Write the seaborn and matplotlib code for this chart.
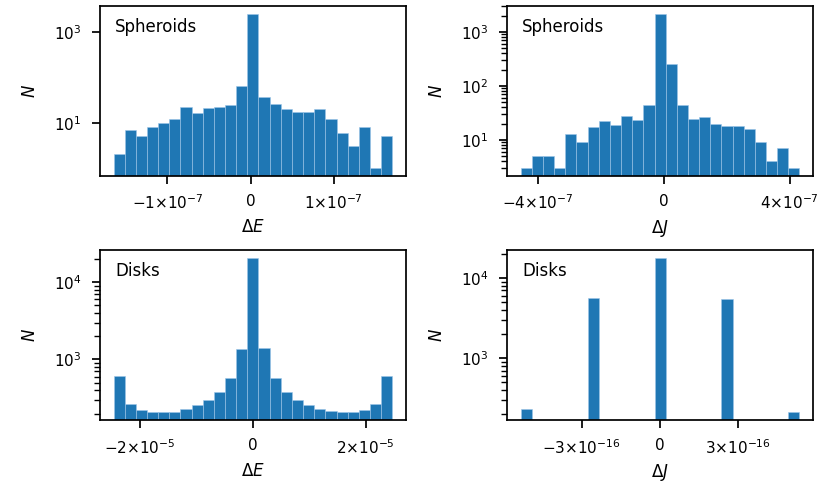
import numpy as np
import pandas as pd
import seaborn as sns
import matplotlib.pyplot as plt
from matplotlib.ticker import NullLocator

# bin edges (first, last) and counts per bin
sph_E_range = (-1.649e-7, 1.705e-7)
sph_E_counts = [2, 7, 5, 8, 10, 12, 22, 16, 21, 22, 25, 63, 2550,
                37, 26, 20, 17, 17, 20, 12, 6, 3, 8, 1, 5]

sph_J_range = (-4.54e-7, 4.31e-7)
sph_J_counts = [3, 5, 5, 3, 13, 9, 17, 22, 19, 28, 23, 45, 2180,
                257, 44, 24, 26, 20, 18, 18, 16, 9, 4, 7, 3]

disk_E_range = (-2.46e-5, 2.471e-5)
disk_E_counts = [608, 268, 224, 207, 207, 211, 229, 255, 299, 384, 583, 1348, 20500,
                 1390, 583, 384, 299, 255, 229, 213, 207, 211, 224, 268, 608]

disk_J_range = (-5.337e-16, 5.364e-16)
disk_J_counts = [230, 0, 0, 0, 0, 0, 5680, 0, 0, 0, 0, 0, 17800,
                 0, 0, 0, 0, 0, 5520, 0, 0, 0, 0, 0, 211]

panels = [
    ("Spheroids", r"$\Delta E$", sph_E_range, sph_E_counts, 1e-7, -7),
    ("Spheroids", r"$\Delta J$", sph_J_range, sph_J_counts, 4e-7, -7),
    ("Disks", r"$\Delta E$", disk_E_range, disk_E_counts, 2e-5, -5),
    ("Disks", r"$\Delta J$", disk_J_range, disk_J_counts, 3e-16, -16),
]

sns.set_theme(style="ticks", rc={
    "axes.edgecolor": "black", "text.color": "black", "axes.labelcolor": "black",
    "xtick.color": "black", "ytick.color": "black",
    "xtick.major.pad": 7, "ytick.major.pad": 7,
})

fig, axes = plt.subplots(2, 2, figsize=(8.3, 4.84), dpi=100)
plt.subplots_adjust(left=0.12, right=0.98, top=0.988, bottom=0.132,
                    wspace=0.328, hspace=0.438)

for i, (ax, (name, xlab, rng, counts, tick, expo)) in enumerate(zip(axes.flat, panels)):
    edges = np.linspace(rng[0], rng[1], len(counts) + 1)
    df = pd.DataFrame({"x": 0.5 * (edges[:-1] + edges[1:]), "n": counts})
    sns.histplot(data=df, x="x", weights="n", bins=len(counts), binrange=rng,
                 color="#1f77b4", alpha=1, edgecolor="#9ec5e8", linewidth=0.4, ax=ax)
    ax.set_yscale("log")
    if i == 0:
        ax.set_yticks([10, 1000])
        ax.yaxis.set_minor_locator(NullLocator())
    mant = int(round(tick / 10.0**expo))
    ax.set_xticks([-tick, 0, tick])
    ax.set_xticklabels([r"$-%d{\times}10^{%d}$" % (mant, expo), "0",
                        r"$%d{\times}10^{%d}$" % (mant, expo)])
    ax.set_xlabel(xlab)
    ax.set_ylabel(r"$N$", labelpad=11)
    ax.text(0.05, 0.93, name, transform=ax.transAxes, va="top", ha="left")

plt.savefig("out.png")
